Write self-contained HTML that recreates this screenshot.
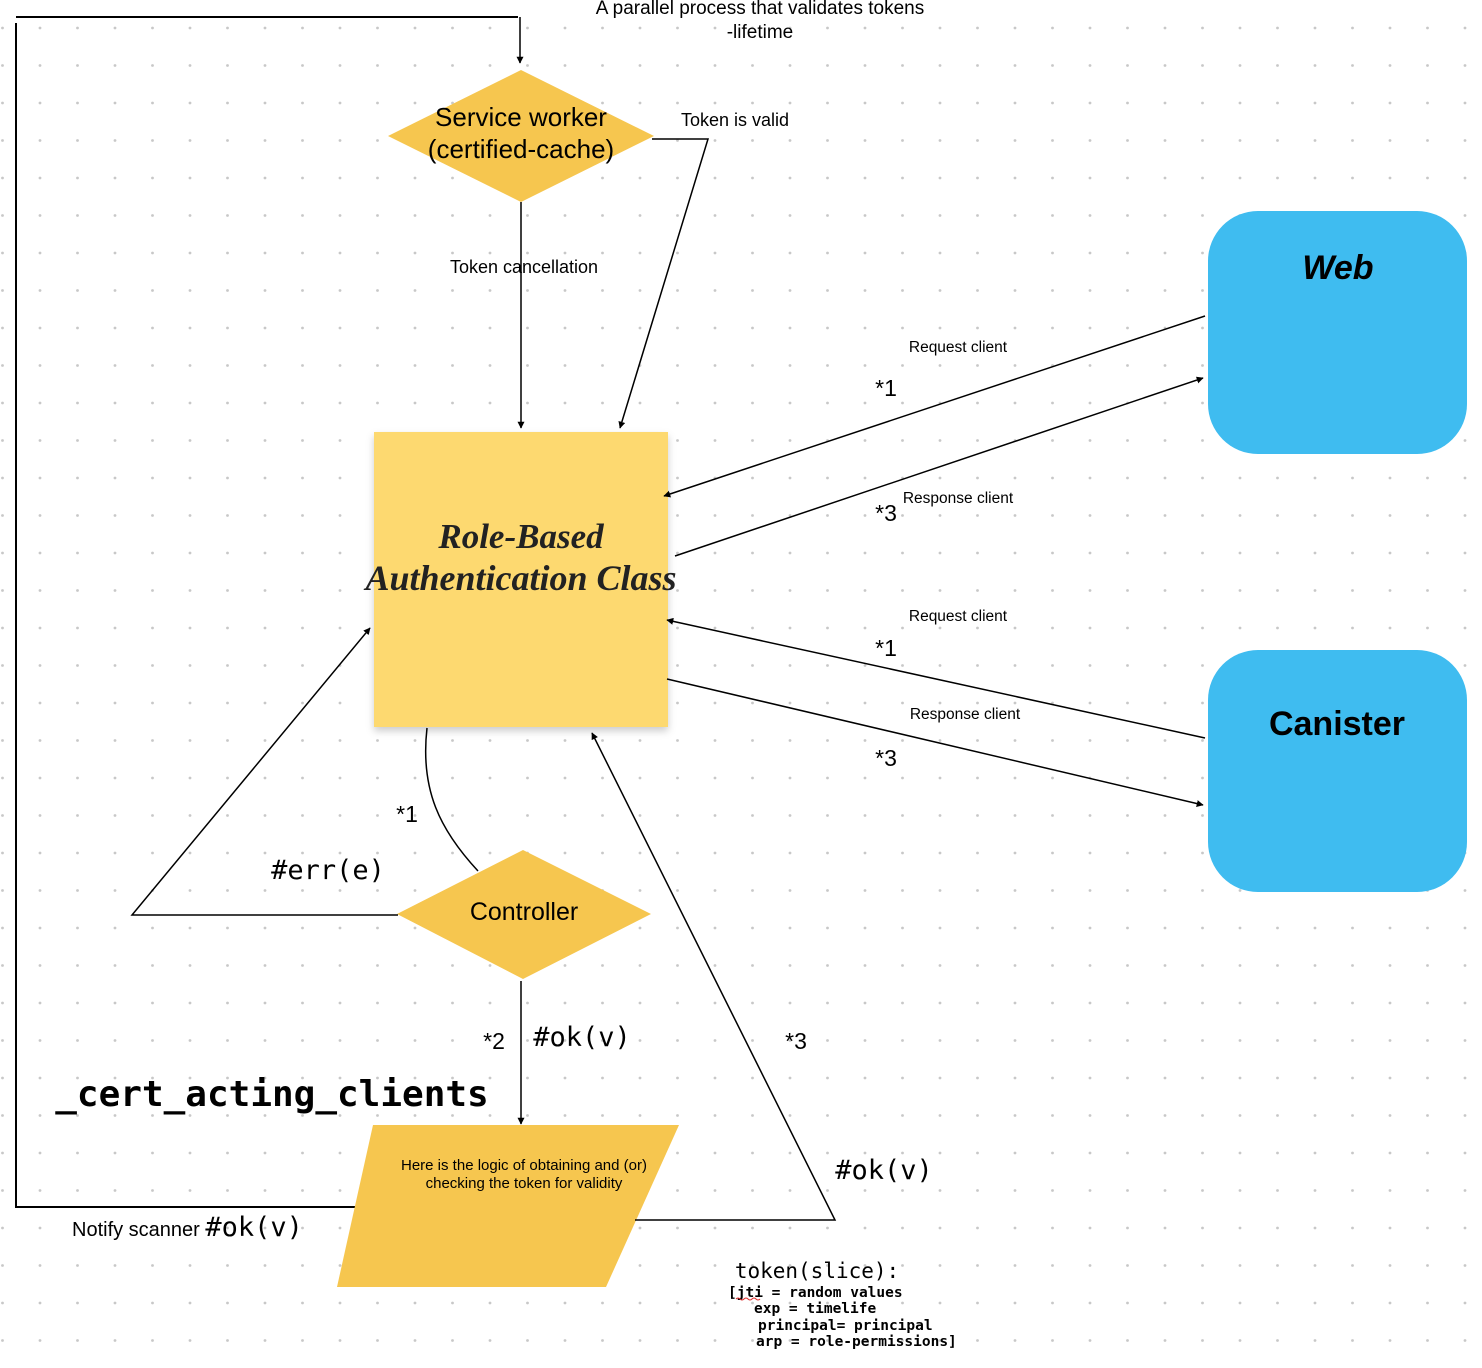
<!DOCTYPE html>
<html><head><meta charset="utf-8"><style>
html,body{margin:0;padding:0;background:#fff;}
svg{display:block;}
.s{font-family:"Liberation Sans",sans-serif;}
.m{font-family:"DejaVu Sans Mono","Liberation Mono",monospace;}
</style></head><body>
<svg width="1482" height="1368" viewBox="0 0 1482 1368" xmlns="http://www.w3.org/2000/svg">
<defs>
<pattern id="dots" x="0" y="0" width="37.5" height="37.5" patternUnits="userSpaceOnUse" patternTransform="translate(2.5,28)">
<circle cx="0" cy="0" r="1.4" fill="#c8c8c8"/><circle cx="37.5" cy="0" r="1.4" fill="#c8c8c8"/><circle cx="0" cy="37.5" r="1.4" fill="#c8c8c8"/><circle cx="37.5" cy="37.5" r="1.4" fill="#c8c8c8"/>
</pattern>
<marker id="a" viewBox="0 0 10 10" refX="9" refY="5" markerWidth="7" markerHeight="7" orient="auto-start-reverse" markerUnits="userSpaceOnUse"><path d="M0,0 L10,5 L0,10 z" fill="#000"/></marker>
<filter id="sh" x="-10%" y="-10%" width="120%" height="120%"><feDropShadow dx="0" dy="4" stdDeviation="4" flood-color="#000" flood-opacity="0.2"/></filter>
</defs>
<rect width="1482" height="1368" fill="url(#dots)"/>

<polyline points="518,17 16,17" fill="none" stroke="#000" stroke-width="2"/>
<polyline points="16,23 16,1207 372,1207" fill="none" stroke="#000" stroke-width="2"/>
<line x1="520" y1="17" x2="520" y2="63" stroke="#000" stroke-width="1.5" marker-end="url(#a)"/>

<polygon points="521,70 654,136 521,202 388,136" fill="#f6c64f"/>
<rect x="374" y="432" width="294" height="295" fill="#fdd96f" filter="url(#sh)"/>
<rect x="1208" y="211" width="259" height="243" rx="50" fill="#3fbcf0"/>
<rect x="1208" y="650" width="259" height="242" rx="50" fill="#3fbcf0"/>
<polygon points="523,850 651,914 523,979 397,914" fill="#f6c64f"/>
<polygon points="373,1125 679,1125 606,1287 337,1287" fill="#f6c64f"/>

<g fill="none" stroke="#000" stroke-width="1.5">
<polyline points="652,139 708,139 620,428" marker-end="url(#a)"/>
<line x1="521" y1="202" x2="521" y2="428" marker-end="url(#a)"/>
<line x1="1205" y1="316" x2="664" y2="496" marker-end="url(#a)"/>
<line x1="675" y1="556" x2="1203" y2="378" marker-end="url(#a)"/>
<line x1="1205" y1="738" x2="667" y2="620" marker-end="url(#a)"/>
<line x1="667" y1="679" x2="1203" y2="805" marker-end="url(#a)"/>
<path d="M427,728 C420,790 440,830 478,871"/>
<polyline points="398,915 132,915 370,628" marker-end="url(#a)"/>
<line x1="521" y1="981" x2="521" y2="1124" marker-end="url(#a)"/>
<polyline points="635,1220 835,1220 592,733" marker-end="url(#a)"/>
</g>

<g class="s" fill="#000">
<text x="760" y="14" font-size="19" text-anchor="middle">A parallel process that validates tokens</text>
<text x="760" y="38" font-size="19" text-anchor="middle">-lifetime</text>
<text x="521" y="126" font-size="26" text-anchor="middle">Service worker</text>
<text x="521" y="158" font-size="26" text-anchor="middle">(certified-cache)</text>
<text x="735" y="126" font-size="18" text-anchor="middle">Token is valid</text>
<text x="524" y="273" font-size="18" text-anchor="middle">Token cancellation</text>
<text x="1338" y="279" font-size="34" font-weight="bold" font-style="italic" text-anchor="middle">Web</text>
<text x="1337" y="735" font-size="34" font-weight="bold" text-anchor="middle">Canister</text>
<text x="958" y="352" font-size="15.5" text-anchor="middle">Request client</text>
<text x="886" y="396" font-size="23" text-anchor="middle">*1</text>
<text x="958" y="503" font-size="15.5" text-anchor="middle">Response  client</text>
<text x="886" y="521" font-size="23" text-anchor="middle">*3</text>
<text x="958" y="621" font-size="15.5" text-anchor="middle">Request client</text>
<text x="886" y="656" font-size="23" text-anchor="middle">*1</text>
<text x="965" y="719" font-size="15.5" text-anchor="middle">Response  client</text>
<text x="886" y="766" font-size="23" text-anchor="middle">*3</text>
<text x="407" y="822" font-size="23" text-anchor="middle">*1</text>
<text x="524" y="920" font-size="25" text-anchor="middle">Controller</text>
<text x="494" y="1049" font-size="23" text-anchor="middle">*2</text>
<text x="796" y="1049" font-size="23" text-anchor="middle">*3</text>
<text x="524" y="1170" font-size="15" text-anchor="middle">Here is the logic of obtaining and (or)</text>
<text x="524" y="1188" font-size="15" text-anchor="middle">checking the token for validity</text>
<text x="72" y="1236" font-size="20">Notify scanner <tspan class="m" font-size="27">#ok(v)</tspan></text>
</g>
<text x="521" y="548" font-family="Liberation Serif,serif" font-size="35" font-weight="bold" font-style="italic" fill="#222" text-anchor="middle">Role-Based</text>
<text x="521" y="590" font-family="Liberation Serif,serif" font-size="36" font-weight="bold" font-style="italic" fill="#222" text-anchor="middle">Authentication Class</text>
<g class="m" fill="#000">
<text x="328" y="879" font-size="27" text-anchor="middle">#err(e)</text>
<text x="582" y="1046" font-size="27" text-anchor="middle">#ok(v)</text>
<text x="884" y="1179" font-size="27" text-anchor="middle">#ok(v)</text>
<text x="272" y="1106" font-size="36" font-weight="bold" text-anchor="middle">_cert_acting_clients</text>
<text x="817" y="1278" font-size="21" text-anchor="middle">token(slice):</text>
<g font-size="14.5" font-weight="bold">
<text x="728" y="1297">[jti = random values</text>
<text x="754" y="1313">exp = timelife</text>
<text x="758" y="1330">principal= principal</text>
<text x="756" y="1346">arp = role-permissions]</text>
</g>
</g>
<path d="M736,1299 q2,-2 4,0 t4,0 t4,0 t4,0 t4,0 t4,0" fill="none" stroke="#e03030" stroke-width="1"/>
</svg>
</body></html>
